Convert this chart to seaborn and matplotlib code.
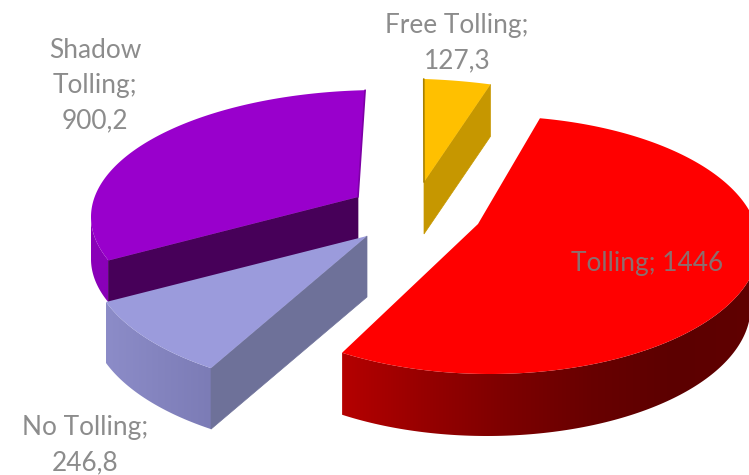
import numpy as np
import matplotlib.pyplot as plt
from matplotlib.patches import Polygon
import seaborn as sns

categories = ['Free Tolling', 'Tolling', 'No Tolling', 'Shadow Tolling']
values = [127.3, 1446, 246.8, 900.2]
value_labels = ['127,3', '1446', '246,8', '900,2']

sns.set_theme(style='white')
plt.rcParams['font.family'] = ['Lato', 'DejaVu Sans']

total = sum(values)
spans = [v / total * 360 for v in values]

# look of each exploded slice: ellipse of its rim, apex, rim start, stretch of the angle, depth
slices = {
    'Shadow Tolling': dict(e=(381, 217), a=290, b=127, apex=(358, 197), start=250, stretch=0.897, depth=42,
                           top='#9900cc', wall='#470059', rim=['#8a00b8', '#8a00b8'], side=0,
                           line='#7d00a6', line_end=-1, taper=1),
    'No Tolling': dict(e=(370, 257), a=280, b=135, apex=(367, 236), start=214.6, stretch=1.10, depth=61,
                       top='#9b9bdc', wall='#6e7199', rim=['#8c8cc8', '#7c7cb6'], side=0,
                       line=None, line_end=0, taper=1),
    'Tolling': dict(e=(490, 245), a=269, b=129, apex=(478, 224), start=10.7, stretch=1.059, depth=62,
                    top='#ff0000', wall=None, rim=['#b40000', '#960000', '#7c0000', '#680000', '#5c0000', '#600000'],
                    side=None, line=None, line_end=0, taper=0.98),
    'Free Tolling': dict(e=(400, 195), a=290, b=116.4, apex=(424, 182), start=4.7, stretch=0.80, depth=52,
                         top='#ffc000', wall='#c69700', rim=None, side=-1,
                         line='#a88000', line_end=0, taper=1),
}

fig = plt.figure(figsize=(7.49, 4.75), dpi=100)
ax = fig.add_axes([0, 0, 1, 1])


def rim_points(s, span):
    phi = np.radians(np.linspace(s['start'], s['start'] + span * s['stretch'], 200))
    return s['e'][0] + s['a'] * np.sin(phi), s['e'][1] - s['b'] * np.cos(phi)


def draw_slice(name, value_span):
    s = slices[name]
    x, y = rim_points(s, value_span)
    d = s['depth']
    ax0, ay0 = s['apex']

    # radial wall
    if s['side'] is not None:
        i = s['side']
        ax.fill([ax0, x[i], x[i], ax0], [ay0, y[i], y[i] + d, ay0 + d], color=s['wall'], lw=0.5)

    # outer wall, only the part of the rim that faces the viewer, shaded left to right
    if s['rim'] is not None:
        phi = np.degrees(np.arctan2(x - s['e'][0], s['e'][1] - y)) % 360
        keep = (phi > 90) & (phi < 270)
        xr, yr = x[keep], y[keep]
        xb = xr.min() + (xr - xr.min()) * s['taper']
        outline = np.c_[np.r_[xr, xb[::-1]], np.r_[yr, yr[::-1] + d]]
        pal = sns.blend_palette(s['rim'], 128)
        img = ax.imshow(np.array(pal)[None, :, :], aspect='auto', interpolation='bilinear',
                        extent=(outline[:, 0].min(), outline[:, 0].max(), outline[:, 1].max(), outline[:, 1].min()))
        clip = Polygon(outline, closed=True, transform=ax.transData, fc='none', ec='none')
        ax.add_patch(clip)
        img.set_clip_path(clip)

    # top face
    ax.fill(np.r_[ax0, x], np.r_[ay0, y], color=s['top'], lw=0)

    if s['line'] is not None:
        i = s['line_end']
        ax.plot([ax0, x[i]], [ay0, y[i]], color=s['line'], lw=1.2)


for name in ['Shadow Tolling', 'No Tolling', 'Tolling', 'Free Tolling']:
    draw_slice(name, spans[categories.index(name)])

ax.set_xlim(0, 749)
ax.set_ylim(475, 0)
ax.axis('off')

grey = '#8c8c8c'
fs = 18.9
ax.text(457, 26, categories[0] + ';', color=grey, fontsize=fs, ha='center', va='center')
ax.text(457, 61, value_labels[0], color=grey, fontsize=fs, ha='center', va='center')
ax.text(95, 51, 'Shadow', color=grey, fontsize=fs, ha='center', va='center')
ax.text(95, 86, 'Tolling;', color=grey, fontsize=fs, ha='center', va='center')
ax.text(95, 121, value_labels[3], color=grey, fontsize=fs, ha='center', va='center')
ax.text(85, 428, categories[2] + ';', color=grey, fontsize=fs, ha='center', va='center')
ax.text(85, 463, value_labels[2], color=grey, fontsize=fs, ha='center', va='center')
ax.text(647, 263, categories[1] + '; ' + value_labels[1], color='#8c6e6e', fontsize=fs, ha='center', va='center')

plt.savefig('out.png', dpi=100)
